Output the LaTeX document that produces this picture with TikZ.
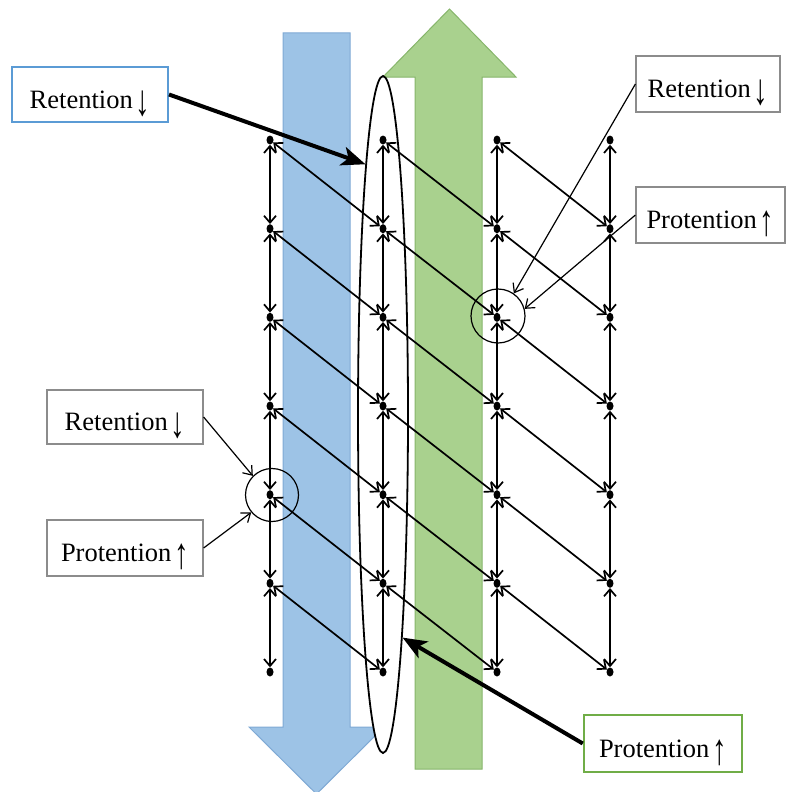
\documentclass[tikz,border=0pt]{standalone}
\usepackage{graphicx}
\usepackage{fontspec}
\setmainfont{Liberation Serif}
\usetikzlibrary{arrows.meta,shapes.geometric}
\definecolor{bluefill}{HTML}{9DC3E6}
\definecolor{blueline}{HTML}{7FA9D4}
\definecolor{greenfill}{HTML}{A9D18E}
\definecolor{greenline}{HTML}{86B56A}
\definecolor{boxblue}{HTML}{5B9BD5}
\definecolor{boxgreen}{HTML}{70AD47}
\definecolor{boxgray}{HTML}{8C8C8C}
\newcommand{\Dn}{\hspace{3pt}\raisebox{-7pt}{\scalebox{1.1}[1.65]{↓}}}
\newcommand{\Up}{\hspace{3pt}\raisebox{-7pt}{\scalebox{1.1}[1.65]{↑}}}
\begin{document}
\begin{tikzpicture}[x=1pt,y=-1pt,
  dotnode/.style={ellipse,fill=black,inner sep=0pt,minimum width=7pt,minimum height=9pt},
  gridarrow/.style={line width=1.7pt,{Straight Barb[length=7pt,width=12pt]}-{Straight Barb[length=7pt,width=12pt]}},
  lbl/.style={draw=boxgray,line width=1.2pt,fill=white,font=\fontsize{26.5}{30}\selectfont,inner sep=0pt,minimum height=55pt,text height=27pt,text depth=0pt},
  callout/.style={line width=1.2pt,-{Straight Barb[length=8pt,width=12pt]}},
  thickarrow/.style={line width=4pt,-{Stealth[length=24pt,width=19pt,inset=6pt]}},
  ring/.style={circle,draw,line width=1.2pt,inner sep=0pt}
]
\useasboundingbox (0,0) rectangle (786,792);
% big arrows
\filldraw[fill=bluefill,draw=blueline,line width=1pt]
  (283,33) -- (350,33) -- (350,727) -- (384,727) -- (316.5,794) -- (249,727) -- (283,727) -- cycle;
\filldraw[fill=greenfill,draw=greenline,line width=1pt]
  (415,769) -- (482,769) -- (482,77) -- (516,77) -- (449.5,9) -- (383,77) -- (415,77) -- cycle;
% ellipse
\node[ellipse,draw,fill=white,line width=1.8pt,minimum width=50pt,minimum height=677pt,inner sep=0pt] (E) at (383,414.5) {};
% dots
\foreach \c/\x in {1/270,2/383,3/497,4/610}
  \foreach \r/\y in {1/140,2/228.7,3/317.3,4/406,5/494.7,6/583.3,7/672}
    \node[dotnode] (p-\c-\r) at (\x,\y) {};
% vertical arrows
\foreach \c in {1,2,3,4}
  \foreach \r/\n in {1/2,2/3,3/4,4/5,5/6,6/7}
    \draw[gridarrow] (p-\c-\r) -- (p-\c-\n);
% diagonal arrows
\foreach \c/\d in {1/2,2/3,3/4}
  \foreach \r/\n in {1/2,2/3,3/4,4/5,5/6,6/7}
    \draw[gridarrow] (p-\c-\r) -- (p-\d-\n);
% rings
\node[ring,minimum size=53pt] (c1) at (272,495) {};
\node[ring,minimum size=54pt] (c2) at (498,316) {};
% labels
\node[lbl,draw=boxblue,line width=2pt,minimum width=156pt] (B1) at (90,94.5) {Retention\Dn};
\node[lbl,draw=boxgreen,line width=2.5pt,minimum width=158pt,minimum height=57pt] (B2) at (663,743.5) {Protention\Up};
\node[lbl,minimum width=144pt,minimum height=56pt] (B3) at (708,84) {Retention\Dn};
\node[lbl,minimum width=149pt,minimum height=56pt] (B4) at (710.5,215) {Protention\Up};
\node[lbl,minimum width=156pt,minimum height=54pt] (B5) at (125,417) {Retention\Dn};
\node[lbl,minimum width=156pt,minimum height=56pt] (B6) at (125,548) {Protention\Up};
% callouts
\draw[callout] (B3.west) -- (c2.55);
\draw[callout] (B4.west) -- (c2.15);
\draw[callout] (B5.east) -- (c1.135);
\draw[callout] (B6.east) -- (c1.220);
% thick arrows
\draw[thickarrow] (B1.east) -- (E.94.7);
\draw[thickarrow] (B2.west) -- (E.275.6);
\end{tikzpicture}
\end{document}
